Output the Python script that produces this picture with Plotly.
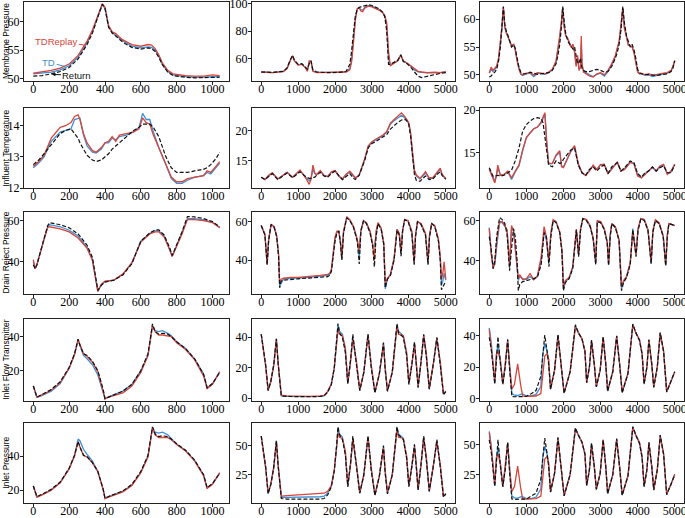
import plotly.graph_objects as go

RED = "#d8453a"
BLUE = "#3b8fd4"
BLACK = "#111111"

# ---------------- Row 1: Membrane Pressure ----------------
mp1_x = [0, 50, 100, 150, 200, 250, 300, 330, 360, 385, 400, 420, 440, 460, 480, 500, 550, 600, 640, 660,
         680, 700, 720, 750, 780, 800, 850, 900, 950, 1000, 1040]
mp1_ret = [50.5, 50.6, 50.9, 51.3, 52.0, 53.5, 56.0, 58.0, 60.8, 63.0, 62.3, 59.0, 58.0, 57.5, 57.0, 56.4, 55.5, 55.2, 55.4, 55.3,
           54.8, 53.8, 52.5, 51.2, 50.6, 50.5, 50.3, 50.2, 50.2, 50.3, 50.3]
mp1_td = [50.9, 51.0, 51.2, 51.6, 52.3, 53.8, 56.3, 58.3, 61.0, 63.0, 62.3, 59.2, 58.1, 57.6, 57.1, 56.6, 55.7, 55.4, 55.6, 55.5,
          55.0, 54.0, 52.6, 51.3, 50.7, 50.6, 50.4, 50.3, 50.3, 50.4, 50.4]
mp1_tdr = [51.0, 51.2, 51.5, 51.9, 52.6, 54.1, 56.6, 58.5, 61.2, 63.1, 62.5, 59.3, 58.2, 57.9, 57.3, 56.8, 56.0, 55.7, 56.0, 55.9,
           55.3, 54.2, 52.8, 51.5, 50.9, 50.8, 50.6, 50.5, 50.5, 50.7, 50.6]

mp2_x = [0, 300, 600, 700, 800, 850, 900, 1000, 1100, 1200, 1250, 1300, 1350, 1400, 1500, 1800, 2100, 2300, 2400, 2450,
         2500, 2550, 2600, 2650, 2700, 2750, 2800, 2900, 3000, 3100, 3200, 3300, 3350, 3400, 3450, 3500, 3600, 3700, 3780, 3850,
         3950, 4050, 4150, 4250, 4350, 4500, 4700, 4850, 5000]
mp2_ret = [50.5, 50.2, 51.0, 53.5, 60.0, 62.5, 59.0, 56.0, 56.5, 54.0, 52.5, 56.5, 58.5, 52.0, 50.5, 50.0, 50.2, 51.0, 56.0, 66.0,
           80.0, 91.0, 95.5, 97.0, 97.5, 98.0, 98.5, 99.0, 98.5, 97.5, 96.0, 93.5, 90.0, 80.0, 56.0, 56.0, 57.5, 59.0, 63.0, 58.0,
           56.5, 54.0, 50.5, 47.5, 46.5, 47.5, 48.5, 49.5, 50.0]
mp2_td = [50.5, 50.1, 50.9, 53.2, 59.7, 62.2, 58.7, 55.7, 56.2, 53.7, 51.5, 57.5, 58.2, 51.3, 50.2, 50.1, 50.2, 50.6, 53.0, 60.0,
          75.0, 89.0, 96.0, 97.0, 95.5, 95.0, 97.0, 98.3, 98.0, 97.0, 95.5, 93.0, 90.5, 84.0, 60.0, 55.5, 57.2, 58.7, 62.7, 58.2,
          56.8, 54.8, 52.0, 50.5, 50.2, 49.8, 50.0, 50.0, 50.6]
mp2_tdr = [50.5, 50.0, 50.8, 53.0, 59.5, 62.0, 58.5, 55.5, 56.0, 53.5, 51.0, 58.5, 58.0, 51.0, 50.0, 50.2, 50.3, 50.5, 52.0, 58.0,
           72.0, 88.0, 96.0, 97.0, 94.5, 94.0, 96.5, 98.0, 97.5, 96.5, 95.0, 93.0, 91.0, 86.0, 65.0, 55.0, 57.0, 58.5, 62.5, 58.5,
           57.0, 55.0, 52.5, 51.0, 50.5, 50.0, 50.3, 50.0, 50.8]

mp3_x = [0, 50, 100, 150, 200, 250, 300, 340, 380, 420, 460, 520, 600, 660, 700, 750, 800, 850, 900, 1000,
         1100, 1200, 1300, 1400, 1500, 1600, 1700, 1800, 1850, 1900, 1950, 1980, 2020, 2060, 2120, 2200, 2260, 2300, 2340, 2380,
         2420, 2460, 2480, 2500, 2540, 2600, 2700, 2800, 2900, 3000, 3100, 3200, 3300, 3400, 3450, 3500, 3550, 3600, 3640, 3700,
         3750, 3800, 3850, 3900, 3950, 4000, 4050, 4100, 4200, 4300, 4400, 4500, 4600, 4700, 4800, 4900, 4950, 5000]
mp3_ret = [49.6, 49.8, 50.2, 50.5, 51.0, 52.5, 55.0, 58.5, 62.3, 59.0, 57.8, 56.8, 55.0, 55.4, 54.8, 53.0, 51.3, 50.5, 50.2, 50.2,
           50.5, 50.3, 50.1, 50.2, 50.3, 50.4, 50.8, 52.0, 53.5, 55.5, 59.0, 62.3, 59.5, 57.5, 56.0, 55.3, 54.6, 55.0, 53.0, 52.0,
           52.2, 53.0, 52.0, 51.2, 50.8, 50.6, 50.6, 50.8, 51.0, 50.8, 50.5, 50.6, 51.5, 53.0, 54.0, 55.5, 58.0, 62.3, 59.5, 57.0,
           55.8, 55.0, 55.5, 54.6, 53.0, 51.0, 50.4, 50.2, 50.1, 50.0, 50.0, 49.9, 50.0, 50.1, 50.2, 50.6, 51.2, 52.5]
mp3_td = [50.4, 51.0, 50.6, 51.0, 51.4, 52.8, 55.3, 58.3, 62.0, 58.6, 57.6, 56.6, 55.2, 55.4, 54.6, 52.7, 51.1, 50.1, 49.9, 50.2,
          50.3, 49.7, 50.3, 50.2, 50.1, 50.4, 50.9, 52.3, 54.2, 56.6, 59.6, 62.1, 58.8, 57.2, 56.4, 55.1, 55.2, 54.3, 52.0, 53.0,
          51.0, 51.3, 55.5, 51.6, 50.9, 50.4, 50.0, 49.7, 50.1, 50.3, 49.8, 50.6, 51.8, 53.3, 54.7, 55.8, 58.7, 62.0, 58.8, 56.7,
          55.4, 55.2, 55.1, 54.2, 52.2, 50.6, 50.2, 50.2, 49.9, 50.0, 49.7, 49.9, 50.1, 50.2, 50.3, 50.7, 51.4, 52.5]
mp3_tdr = [50.3, 51.4, 50.8, 51.2, 51.6, 53.0, 55.5, 58.5, 62.2, 58.5, 57.5, 56.5, 55.3, 55.5, 54.5, 52.5, 51.0, 50.2, 50.0, 50.3,
           50.4, 50.0, 50.4, 50.3, 50.2, 50.5, 51.0, 52.5, 54.5, 57.0, 60.0, 62.0, 58.5, 57.0, 56.5, 55.0, 55.5, 54.0, 51.5, 53.5,
           50.8, 51.5, 57.0, 52.0, 50.5, 50.2, 49.8, 49.6, 50.2, 50.4, 50.0, 50.8, 52.0, 53.5, 55.0, 56.0, 59.0, 62.0, 58.5, 56.5,
           55.3, 55.3, 55.0, 54.0, 52.0, 50.5, 50.2, 50.3, 50.0, 50.2, 49.9, 50.1, 50.2, 50.3, 50.4, 50.8, 51.5, 52.6]

# ---------------- Row 2: Influent Temperature ----------------
it1_x = [0, 30, 60, 100, 150, 180, 210, 230, 250, 260, 280, 300, 330, 350, 380, 400, 420, 440, 460, 480,
         520, 560, 590, 610, 630, 650, 670, 700, 740, 770, 800, 830, 860, 900, 950, 970, 990, 1020, 1040]
it1_ret = [12.75, 12.9, 13.1, 13.4, 13.75, 13.85, 13.9, 13.75, 13.6, 13.45, 13.25, 13.05, 12.9, 12.85, 12.9, 13.0, 13.1, 13.25, 13.35, 13.45,
           13.65, 13.85, 13.95, 14.05, 14.05, 14.05, 13.95, 13.65, 13.0, 12.65, 12.5, 12.5, 12.5, 12.55, 12.6, 12.65, 12.75, 12.95, 13.15]
it1_td = [12.65, 12.8, 13.0, 13.5, 13.8, 13.85, 13.9, 14.2, 14.25, 14.25, 13.7, 13.35, 13.15, 13.12, 13.25, 13.45, 13.45, 13.6, 13.55, 13.65,
          13.7, 13.8, 13.95, 14.4, 14.2, 14.2, 13.8, 13.3, 12.75, 12.3, 12.15, 12.15, 12.25, 12.35, 12.4, 12.5, 12.45, 12.65, 12.8]
it1_tdr = [12.7, 12.85, 13.05, 13.6, 13.95, 14.0, 14.1, 14.3, 14.35, 14.2, 13.75, 13.45, 13.2, 13.15, 13.3, 13.45, 13.5, 13.65, 13.5, 13.7,
           13.75, 13.8, 13.9, 14.25, 14.1, 14.05, 13.7, 13.3, 12.8, 12.35, 12.2, 12.2, 12.3, 12.35, 12.4, 12.55, 12.5, 12.7, 12.85]

it2_x = [0, 100, 200, 300, 450, 550, 700, 850, 1000, 1050, 1200, 1300, 1350, 1400, 1450, 1500, 1600, 1700, 1800, 1900,
         2000, 2100, 2200, 2300, 2400, 2500, 2550, 2650, 2700, 2800, 2900, 3000, 3100, 3200, 3300, 3400, 3500, 3600, 3700, 3800,
         3900, 3950, 4000, 4050, 4100, 4150, 4200, 4300, 4400, 4450, 4550, 4650, 4750, 4850, 4900, 5000]
it2_ret = [12.3, 11.9, 12.4, 12.9, 11.9, 12.3, 13.0, 12.2, 13.0, 13.2, 12.4, 12.1, 12.1, 12.2, 12.3, 12.6, 13.1, 12.5, 12.3, 12.9,
           13.3, 12.6, 11.9, 12.4, 12.9, 12.1, 11.9, 12.6, 13.3, 15.0, 17.2, 17.9, 18.2, 18.6, 19.0, 19.4, 20.3, 20.9, 21.4, 21.8,
           21.9, 21.6, 21.0, 19.0, 15.5, 12.8, 11.8, 11.6, 12.2, 12.5, 11.9, 12.0, 12.7, 13.2, 12.6, 12.0]
it2_td = [12.3, 11.9, 12.5, 13.0, 12.0, 12.4, 13.1, 12.3, 13.2, 13.4, 12.3, 11.7, 12.1, 13.6, 12.9, 12.7, 13.3, 12.6, 12.4, 13.1,
          13.4, 12.5, 12.0, 12.7, 13.2, 12.4, 12.1, 12.6, 13.4, 15.2, 17.4, 18.1, 18.5, 18.8, 19.2, 19.8, 21.1, 21.7, 22.1, 22.6,
          22.1, 21.8, 21.2, 19.4, 15.8, 13.3, 12.5, 12.0, 12.6, 13.0, 12.1, 12.1, 12.9, 13.6, 12.7, 12.0]
it2_tdr = [12.3, 11.9, 12.6, 13.0, 12.0, 12.4, 13.1, 12.3, 13.3, 13.5, 12.2, 11.1, 12.0, 14.3, 13.0, 12.7, 13.4, 12.6, 12.4, 13.2,
           13.4, 12.5, 12.0, 12.8, 13.3, 12.5, 12.2, 12.6, 13.5, 15.3, 17.5, 18.2, 18.6, 18.9, 19.3, 19.9, 21.3, 21.9, 22.4, 23.0,
           22.3, 21.9, 21.3, 19.5, 16.0, 13.5, 12.7, 12.1, 12.8, 13.2, 12.2, 12.2, 13.0, 13.8, 12.8, 12.0]

it3_x = [0, 100, 150, 200, 230, 300, 400, 500, 600, 700, 800, 900, 1000, 1100, 1200, 1300, 1400, 1450, 1500, 1550,
         1600, 1700, 1800, 1900, 1950, 2000, 2100, 2200, 2300, 2400, 2500, 2600, 2700, 2800, 2900, 3000, 3100, 3200, 3300, 3450,
         3550, 3650, 3800, 3900, 4000, 4100, 4200, 4300, 4400, 4500, 4600, 4700, 4800, 4900, 5000]
it3_ret = [13.2, 12.2, 12.2, 12.3, 12.3, 12.2, 12.3, 12.6, 12.9, 14.0, 15.5, 17.5, 18.3, 18.7, 19.0, 19.1, 19.0, 18.5, 17.0, 15.0,
           13.5, 13.3, 14.0, 13.7, 13.8, 14.2, 14.8, 15.3, 15.5, 13.5, 12.6, 12.3, 13.0, 13.3, 12.8, 13.3, 13.5, 12.5, 13.3, 13.8,
           12.8, 13.2, 14.0, 13.8, 12.5, 12.1, 12.6, 12.8, 13.3, 12.8, 13.2, 13.4, 12.6, 12.6, 13.5]
it3_td = [13.1, 12.0, 11.6, 12.4, 13.2, 12.3, 12.4, 12.7, 11.8, 12.7, 13.4, 15.2, 16.7, 17.3, 17.8, 18.0, 18.5, 19.0, 19.5, 16.2,
          13.6, 13.7, 14.6, 15.0, 13.4, 13.3, 14.2, 15.1, 15.7, 13.6, 12.6, 12.3, 12.9, 13.4, 13.0, 13.5, 13.6, 12.5, 13.1, 13.8,
          12.8, 13.1, 13.9, 13.7, 12.3, 12.0, 12.5, 12.9, 13.2, 12.8, 13.3, 13.5, 12.5, 12.7, 13.6]
it3_tdr = [13.0, 11.9, 11.4, 12.5, 13.5, 12.3, 12.4, 12.8, 12.0, 12.8, 13.5, 15.3, 16.8, 17.3, 17.8, 18.0, 18.6, 19.2, 19.7, 16.0,
           13.7, 13.7, 14.7, 15.2, 13.3, 13.2, 14.2, 15.2, 15.8, 13.7, 12.6, 12.3, 12.8, 13.5, 13.0, 13.6, 13.6, 12.5, 13.0, 13.9,
           12.8, 13.0, 13.8, 13.7, 12.2, 12.0, 12.4, 12.9, 13.3, 12.8, 13.4, 13.6, 12.4, 12.8, 13.6]

# ---------------- Row 3: Drain Reject Pressure ----------------
dr1_x = [0, 10, 20, 40, 60, 80, 90, 150, 200, 250, 300, 330, 360, 380, 400, 450, 500, 550, 600, 650,
         680, 700, 730, 760, 775, 800, 830, 860, 900, 950, 1000, 1040]
dr1_ret = [38.5, 36.5, 38.5, 45, 52, 57.5, 59, 58, 56.5, 53.5, 48, 42, 26, 28.5, 30, 31, 33.5, 39, 50, 54,
           55.5, 55.5, 53, 47, 43, 48, 54.5, 62, 61.8, 61, 59.5, 57]
dr1_td = [40, 36.5, 38.5, 45, 51.5, 57, 58, 57, 55.3, 52.5, 47, 41, 25.5, 28.7, 30.3, 31, 33.8, 39.2, 50, 53.8,
          55, 55, 52.5, 46.5, 42.7, 47.8, 54, 61, 61, 60.3, 59.2, 56.8]
dr1_tdr = [41, 36.5, 38.5, 45, 51, 56.5, 57, 56, 54.5, 51.5, 46.5, 40.5, 25.5, 29, 30.5, 31, 34, 39.5, 49.5, 53.5,
           54.5, 54.5, 52, 46, 42.5, 47.5, 53.5, 60.5, 60.5, 60, 59, 56.5]

dr2_x = [0, 100, 160, 200, 267, 350, 420, 470, 500, 540, 600, 800, 1000, 1200, 1400, 1600, 1800, 1850, 1900, 1950,
         2000, 2050, 2103, 2150, 2184, 2230, 2317, 2400, 2500, 2600, 2656, 2700, 2772, 2850, 2950, 3020, 3066, 3110, 3164, 3250,
         3320, 3360, 3420, 3500, 3600, 3680, 3740, 3788, 3830, 3886, 3980, 4080, 4144, 4180, 4234, 4330, 4450, 4519, 4560, 4617,
         4700, 4800, 4850, 4884, 4920, 4955, 5000]
dr2_ret = [58, 53, 37.5, 50, 58.5, 57, 52, 42, 25.5, 29, 29.5, 30, 30.2, 30.5, 30.8, 31, 31.3, 32, 34, 42,
           50, 54, 55, 48, 40, 54, 62, 60.5, 57, 50, 38, 55, 60.5, 59, 54, 47, 36.5, 52, 59, 56,
           48, 25.5, 30, 32, 40, 55.5, 53, 42, 55, 61, 60, 54, 37.5, 52, 60, 58.5, 53, 37.5, 52, 59,
           57.5, 50, 40, 24.5, 26, 27, 29]
dr2_td = [58, 53.2, 37.8, 50.2, 58.5, 57.2, 52.2, 42.5, 26.5, 28, 30, 30.5, 30.6, 30.9, 31.2, 31.5, 32, 32.5, 34.5, 43,
          51, 54.5, 55, 48.5, 40.5, 54.5, 62.2, 60.8, 57.2, 50.5, 42, 55.2, 60.5, 59.2, 54.5, 48, 47, 53, 59.2, 56.2,
          48.5, 25, 30.2, 32.2, 40.5, 56, 53.5, 43, 55.2, 61, 60.2, 54.5, 38, 52.5, 60, 58.7, 53.5, 38, 52.5, 59,
          57.7, 50.5, 41, 27, 29, 33, 29.5]
dr2_tdr = [58, 53.5, 38, 50.5, 58.5, 57.5, 52.5, 43, 28, 30, 30.5, 31, 31, 31.3, 31.5, 32, 32.5, 33, 35, 44,
           52, 55, 55, 49, 41, 55, 62.5, 61, 57.5, 51, 45, 55.5, 60.5, 59.5, 55, 48, 40, 55, 59.5, 56.5,
           49, 28, 30.5, 32.5, 41, 56, 54, 44, 55.5, 61, 60.5, 55, 38.5, 53, 60, 59, 54, 39, 53, 59,
           58, 51, 42, 30, 33, 39, 30]

dr3_x = [0, 50, 104, 150, 200, 278, 350, 420, 480, 548, 600, 652, 700, 750, 783, 820, 900, 1000, 1100, 1200,
         1300, 1400, 1478, 1540, 1609, 1660, 1722, 1800, 1900, 1960, 2000, 2050, 2150, 2250, 2300, 2348, 2409, 2460, 2522, 2620,
         2720, 2800, 2870, 2913, 3000, 3100, 3180, 3217, 3260, 3304, 3400, 3500, 3565, 3620, 3700, 3800, 3870, 3957, 4010, 4087,
         4180, 4280, 4365, 4410, 4478, 4580, 4690, 4757, 4800, 4843, 4930, 5000]
dr3_ret = [52, 46, 36, 40, 52, 61.5, 60.5, 58.5, 53, 35, 46, 56, 52, 40, 25, 28, 29.5, 30, 30.5, 31,
           32, 38, 54, 52, 37, 52, 60, 59, 54, 44, 25, 29, 31, 36, 46, 55.5, 42, 55, 61, 60,
           57, 51, 38, 59.5, 59, 55.5, 49, 37.5, 52, 58.5, 56.5, 50, 25, 29, 31.5, 38, 55.5, 42, 55, 61,
           60, 55, 38.5, 54, 60, 58.5, 52, 37.5, 52, 58.5, 58, 57.5]
dr3_td = [56.5, 44, 37, 38, 47, 59, 59, 57, 55.5, 37, 56, 55, 47, 36, 30, 32, 31, 30.5, 32, 30.5,
          32, 40, 55, 50, 39, 53, 60, 59.5, 54, 45, 26, 29.5, 31, 36.5, 47, 55, 43, 55.5, 61, 60.5,
          57, 51, 38.5, 59.5, 59.5, 55.5, 49, 38, 52.5, 58.5, 56.5, 50, 26, 29.5, 32, 38.5, 56, 43, 55.5, 61,
          60.5, 55, 38.5, 54.5, 60, 58.5, 52, 37.5, 52.5, 58.5, 58, 57.5]
dr3_tdr = [56, 44, 36, 39, 50, 59.5, 59.5, 57.5, 55, 38, 57.5, 55, 47, 35, 31, 33, 30.5, 31, 33.5, 30.5,
           32.5, 42, 57, 52, 40, 54, 60.5, 59.5, 54.5, 45, 27, 30, 31.5, 37, 47, 55.5, 43, 56, 61, 60.5,
           57.5, 51.5, 39, 60, 59.5, 56, 49.5, 38.5, 53, 58.5, 57, 50.5, 27, 30, 32, 39, 54.5, 43, 56, 61,
           60.5, 55.5, 39, 55, 60.5, 59, 52.5, 38, 53, 58.5, 58, 57.5]

# ---------------- Row 4: Inlet Flow Transmitter ----------------
ft1_x = [0, 20, 50, 100, 150, 200, 230, 250, 260, 280, 300, 330, 360, 390, 400, 420, 500, 550, 600, 640,
         665, 680, 700, 720, 750, 770, 800, 850, 900, 950, 970, 1000, 1040]
ft1_ret = [11, 4.5, 6, 9, 13.5, 22, 30, 38.5, 35, 30, 29, 25.5, 20, 9, 3.5, 4.5, 8, 12, 20, 30,
           47.5, 43, 41.5, 42, 41.5, 40, 37, 33, 27, 18, 10, 12.5, 19]
ft1_td = [11, 4.3, 5.5, 8, 12.5, 21.5, 29.5, 38, 35, 29, 27, 23.5, 17.5, 8, 3.8, 4.6, 8, 12, 20, 29,
          46, 43.5, 43, 43.5, 42, 40.5, 37, 33, 27, 18, 10, 12.5, 19]
ft1_tdr = [11, 4.5, 6, 8.5, 13, 21.5, 29.5, 38.5, 35.5, 30, 28.5, 25, 19.5, 8, 3.5, 4.5, 7, 11, 19, 29,
           46.5, 43, 41, 41, 40.5, 40, 36.5, 32.5, 26.5, 17, 9.5, 12, 19.5]

ft2_x = [0, 60, 120, 187, 260, 340, 410, 460, 544, 700, 1000, 1300, 1600, 1700, 1800, 1900, 1980, 2040, 2080, 2120,
         2200, 2280, 2345, 2420, 2482, 2580, 2670, 2780, 2893, 2980, 3080, 3200, 3312, 3360, 3420, 3550, 3678, 3720, 3850, 3940,
         4000, 4080, 4152, 4200, 4250, 4330, 4402, 4470, 4553, 4660, 4759, 4850, 4937, 5000]
ft2_ret = [42, 33, 22, 5, 11, 22, 39, 22, 1.5, 1.2, 1.0, 1.0, 1.2, 1.5, 4, 9, 20, 35, 49, 43,
           40, 30, 9.5, 25, 42, 22, 5, 17, 42, 20, 3.5, 16, 36.5, 18, 4.5, 17, 49, 43, 40, 28,
           9, 22, 37, 22, 7, 24, 42, 28, 6, 22, 40, 22, 2.2, 4.4]
ft2_td = [42, 32.5, 21.5, 5, 11, 22, 39, 22.5, 1.5, 1.3, 1.1, 1.1, 1.3, 1.6, 4.2, 9.2, 20, 35, 48, 44,
          42, 31, 9.5, 25, 40, 23, 5, 17, 42, 21, 3.8, 16, 36, 19, 4.8, 17, 48, 44, 41, 29,
          9.5, 22, 36, 23, 7.5, 24, 41.5, 29, 6, 22, 39.5, 23, 2.8, 4.5]
ft2_tdr = [42, 32, 21, 5.5, 11, 21.5, 38.5, 23, 2, 1.5, 1.3, 1.3, 1.5, 1.8, 4.5, 9.5, 20, 34, 45, 42,
           41, 33, 10, 24, 39, 24, 5.5, 17, 41.5, 22, 4, 16, 35, 20, 5, 17, 47, 42, 41, 30,
           10, 22, 35, 24, 8, 24, 41, 30, 6.5, 22, 39, 24, 3, 4.5]

ft3_x = [0, 60, 148, 190, 235, 300, 365, 430, 496, 550, 609, 680, 765, 850, 900, 1000, 1130, 1260, 1390, 1440,
         1496, 1560, 1600, 1652, 1760, 1852, 1940, 2017, 2180, 2322, 2400, 2500, 2580, 2626, 2700, 2757, 2830, 2887, 2990, 3070,
         3140, 3191, 3330, 3435, 3520, 3583, 3740, 3870, 3950, 4050, 4120, 4174, 4250, 4304, 4380, 4435, 4530, 4609, 4700, 4783,
         4900, 5000]
ft3_ret = [39, 30, 9, 24, 39.4, 22, 9, 20, 37.7, 18, 1.2, 1.0, 1.0, 1.0, 1.0, 1.2, 3, 5, 14, 28,
           40.4, 30, 22, 5.7, 18, 40.8, 22, 3.2, 17, 47, 42, 38, 30, 10, 20, 37.2, 22, 7.4, 18, 39.4,
           22, 4.5, 17, 40, 20, 3.5, 16, 47.5, 42, 37, 28, 9, 20, 37.5, 22, 7, 20, 42, 30, 4,
           11, 17]
ft3_td = [45, 34, 10, 26, 35, 24, 9, 21, 37, 19, 3, 2, 1.8, 2.5, 2.8, 1.5, 1.5, 2.5, 7.5, 28,
          35, 30, 24, 6, 18, 40.5, 22, 3.3, 17, 46.5, 42, 38, 30, 10, 20, 37, 22, 7.4, 18, 39.2,
          22, 4.6, 17, 39.8, 20.5, 3.7, 16, 47.2, 42, 37.2, 28.5, 9, 20, 37.3, 22, 7.2, 20, 41.8, 30, 4.2,
          11, 17]
ft3_tdr = [44, 32, 11, 28, 30, 24, 9, 22, 37, 20, 6, 9, 22, 8, 1.5, 1.2, 1.2, 1.5, 3, 14,
           27, 28.5, 25, 6, 18, 40, 22, 3.5, 17, 46, 42, 38, 30, 10, 20, 36.5, 22, 7.5, 18, 39,
           22, 5, 17, 39.5, 21, 4, 16, 47, 42, 37.5, 29, 9.5, 20, 37, 22, 7.5, 20, 41.5, 30, 4.5,
           11, 17]

# ---------------- Row 5: Inlet Pressure ----------------
ip1_x = ft1_x
ip1_ret = [22.5, 16.3, 17.7, 20.5, 24.8, 32.9, 40.5, 48.6, 45.3, 40.5, 39.6, 36.2, 31, 20.5, 15.3, 16.3, 19.6, 23.4, 31, 40.5,
           57.1, 52.9, 51.4, 51.9, 51.4, 50, 47.2, 43.4, 37.7, 29.1, 21.5, 23.9, 30]
ip1_td = [22.5, 16, 17.5, 20.2, 24.5, 32.6, 40.5, 50, 49, 44, 41, 37, 31, 20.5, 15.2, 16.2, 19.4, 23, 30.5, 40,
          56.8, 54, 53.5, 54, 52.5, 50.5, 47, 43.2, 37.5, 29, 21.3, 23.7, 29.8]
ip1_tdr = [22.5, 16, 17.3, 20, 24.3, 32.5, 40, 48.5, 45.5, 40.3, 39.5, 36, 30.8, 20.3, 15, 16, 19, 22.8, 30.3, 39.5,
           56.5, 52.5, 50.8, 51, 50.8, 49.6, 46.8, 43, 37.2, 28.5, 21, 23.5, 30.3]

ip2_x = ft2_x
ip2_ret = [58, 46, 32, 9, 17, 32, 54, 32, 5, 4.5, 4.3, 4.3, 4.5, 5, 8, 15, 29, 49, 66, 59,
           55, 42, 15, 35, 58, 32, 9.5, 25, 58, 29, 7.5, 24, 50, 26, 9, 25, 66, 59, 55, 39,
           15, 32, 51, 32, 12, 34, 58, 39, 11, 32, 55, 32, 6, 9]
ip2_td = [58, 45.5, 31.5, 9.5, 17, 32, 54, 32.5, 6, 6, 6, 6, 6.5, 7, 9.5, 15.5, 29, 48, 64, 60,
          57, 43, 15, 35, 56, 33, 9.5, 25, 58, 30, 8, 24, 49, 27, 9.5, 25, 65, 60, 56, 40,
          15.5, 32, 50, 33, 12.5, 34, 57, 40, 11, 32, 54, 33, 7, 9]
ip2_tdr = [58, 45, 31, 10, 17, 31, 53, 33, 7, 7.5, 8, 8.5, 9, 9.5, 11, 16, 29, 47, 61, 57,
           56, 45, 16, 34, 55, 34, 10, 25, 57, 31, 8, 24, 48, 28, 10, 25, 63, 57, 56, 41,
           16, 32, 49, 34, 13, 34, 56, 41, 11.5, 32, 53, 34, 7, 9]

ip3_x = ft3_x
ip3_ret = [54, 42, 15, 34, 54, 32, 15, 29, 52, 26, 4.6, 4.3, 4.3, 4.3, 4.3, 4.6, 7, 9.5, 21, 39,
           55.5, 42, 32, 10.4, 26, 56, 32, 7.2, 25, 64, 58, 52, 42, 16, 29, 51, 32, 12.6, 26, 54,
           32, 8.9, 25, 55, 29, 7.6, 24, 65, 58, 51, 39, 15, 29, 52, 32, 12, 29, 58, 42, 8.2,
           17, 25]
ip3_td = [61, 47, 16, 37, 48, 34, 15, 30, 51, 28, 7, 5.6, 5.3, 6.3, 6.6, 5, 5, 6.3, 13, 39,
          48.5, 42, 34, 10.8, 26, 55.5, 32, 7.3, 25, 63.5, 58, 52, 42, 16, 29, 51, 32, 12.6, 26, 54,
          32, 9, 25, 54.5, 29.5, 7.8, 24, 64.5, 58, 51, 40, 15, 29, 51.5, 32, 12.4, 29, 57.5, 42, 8.5,
          17, 25]
ip3_tdr = [60, 45, 17, 39, 42, 34, 15, 32, 51, 29, 11, 15, 32, 13, 5, 4.6, 4.6, 5, 7, 21,
           38, 40, 35, 11, 26, 55, 32, 7.6, 25, 63, 58, 52, 42, 16, 29, 50, 32, 12.8, 26, 54,
           32, 9.5, 25, 54, 30, 8.2, 24, 64, 58, 52, 40, 15.4, 29, 51, 32, 12.8, 29, 57, 42, 8.9,
           17, 25]

row_titles = ["Membrane Pressure", "Influent Temperature", "Drain Reject Pressure",
              "Inlet Flow Transmitter", "Inlet Pressure"]
xticks_short = [0, 200, 400, 600, 800, 1000]
xticks_long = [0, 1000, 2000, 3000, 4000, 5000]

panels = [
    (mp1_x, mp1_td, mp1_tdr, mp1_ret, [49.65, 63.4], [50, 55, 60]),
    (mp2_x, mp2_td, mp2_tdr, mp2_ret, [44, 101], [60, 80, 100]),
    (mp3_x, mp3_td, mp3_tdr, mp3_ret, [48.9, 63.1], [50, 55, 60]),
    (it1_x, it1_td, it1_tdr, it1_ret, [12.0, 14.57], [12, 13, 14]),
    (it2_x, it2_td, it2_tdr, it2_ret, [10.5, 23.8], [15, 20]),
    (it3_x, it3_td, it3_tdr, it3_ret, [10.8, 20.25], [15, 20]),
    (dr1_x, dr1_td, dr1_tdr, dr1_ret, [24.2, 64.2], [40, 60]),
    (dr2_x, dr2_td, dr2_tdr, dr2_ret, [22.3, 65], [40, 60]),
    (dr3_x, dr3_td, dr3_tdr, dr3_ret, [23.3, 64.3], [40, 60]),
    (ft1_x, ft1_td, ft1_tdr, ft1_ret, [2.2, 50.4], [20, 40]),
    (ft2_x, ft2_td, ft2_tdr, ft2_ret, [-1.8, 52], [0, 20, 40]),
    (ft3_x, ft3_td, ft3_tdr, ft3_ret, [-1.7, 50.7], [0, 20, 40]),
    (ip1_x, ip1_td, ip1_tdr, ip1_ret, [12.5, 59.4], [20, 40]),
    (ip2_x, ip2_td, ip2_tdr, ip2_ret, [1.2, 69.1], [25, 50]),
    (ip3_x, ip3_td, ip3_tdr, ip3_ret, [1.3, 68], [25, 50]),
]

W, H = 685, 518
col_px = [(24, 229), (252, 455), (480, 684)]
row_px = [(2, 81), (108, 188), (212, 294), (319, 401), (423, 503)]

fig = go.Figure()
layout = {}
tickfont = dict(family="Liberation Serif", size=12, color="black")
annotations = []
for i, (xs, td, tdr, ret, yr, yt) in enumerate(panels):
    r, c = divmod(i, 3)
    sid = "" if i == 0 else str(i + 1)
    xa, ya = "x" + sid, "y" + sid
    fig.add_trace(go.Scatter(x=xs, y=td, mode="lines", line=dict(color=BLUE, width=1.3),
                             xaxis=xa, yaxis=ya, name="TD", showlegend=False))
    fig.add_trace(go.Scatter(x=xs, y=tdr, mode="lines", line=dict(color=RED, width=1.3),
                             xaxis=xa, yaxis=ya, name="TDReplay", showlegend=False))
    fig.add_trace(go.Scatter(x=xs, y=ret, mode="lines", line=dict(color=BLACK, width=1.2, dash="4px,2px"),
                             xaxis=xa, yaxis=ya, name="Return", showlegend=False))
    common = dict(showline=True, linecolor="#222222", linewidth=1.4, mirror=True, ticks="outside",
                  ticklen=3, tickwidth=1, tickcolor="#222222", showgrid=False, zeroline=False,
                  tickfont=tickfont, automargin=False, fixedrange=True, ticklabeloverflow="allow")
    xr = [-52, 1092] if c == 0 else [-250, 5250]
    layout["xaxis" + sid] = dict(common, domain=[col_px[c][0] / W, col_px[c][1] / W], anchor=ya,
                                 range=xr, tickmode="array", ticklabelstandoff=-7,
                                 tickvals=xticks_short if c == 0 else xticks_long)
    layout["yaxis" + sid] = dict(common, domain=[1 - row_px[r][1] / H, 1 - row_px[r][0] / H], anchor=xa,
                                 range=yr, tickmode="array", tickvals=yt, ticklabelstandoff=-2)

for r, t in enumerate(row_titles):
    annotations.append(dict(text=t, xref="paper", yref="paper", x=5.5 / W,
                            y=1 - (row_px[r][0] + row_px[r][1]) / 2 / H, textangle=-90,
                            showarrow=False, xanchor="center", yanchor="middle",
                            font=dict(family="Liberation Sans", size=8.4, color="black")))

lab_font = dict(family="Liberation Sans", size=9.5)
annotations.append(dict(text="TDReplay", xref="x", yref="y", x=285, y=55.9, ax=-28, ay=-4,
                        showarrow=True, arrowhead=0, arrowwidth=1, arrowcolor=RED,
                        font=dict(lab_font, color=RED)))
annotations.append(dict(text="TD", xref="x", yref="y", x=175, y=52.2, ax=-16, ay=-4,
                        showarrow=True, arrowhead=0, arrowwidth=1, arrowcolor=BLUE,
                        font=dict(lab_font, color=BLUE)))
annotations.append(dict(text="Return", xref="x", yref="y", x=104, y=50.8, ax=25, ay=1,
                        showarrow=True, arrowhead=2, arrowsize=0.7, arrowwidth=1, arrowcolor=BLACK,
                        font=dict(lab_font, color=BLACK)))

fig.update_layout(**layout)
fig.update_layout(width=W, height=H, margin=dict(l=0, r=0, t=0, b=0),
                  paper_bgcolor="white", plot_bgcolor="white",
                  annotations=annotations, showlegend=False)
fig.write_html("out.html", config={"displayModeBar": False},
               post_script="document.body.style.margin='0';document.body.style.padding='0';"
                           "document.body.style.overflow='hidden';")
